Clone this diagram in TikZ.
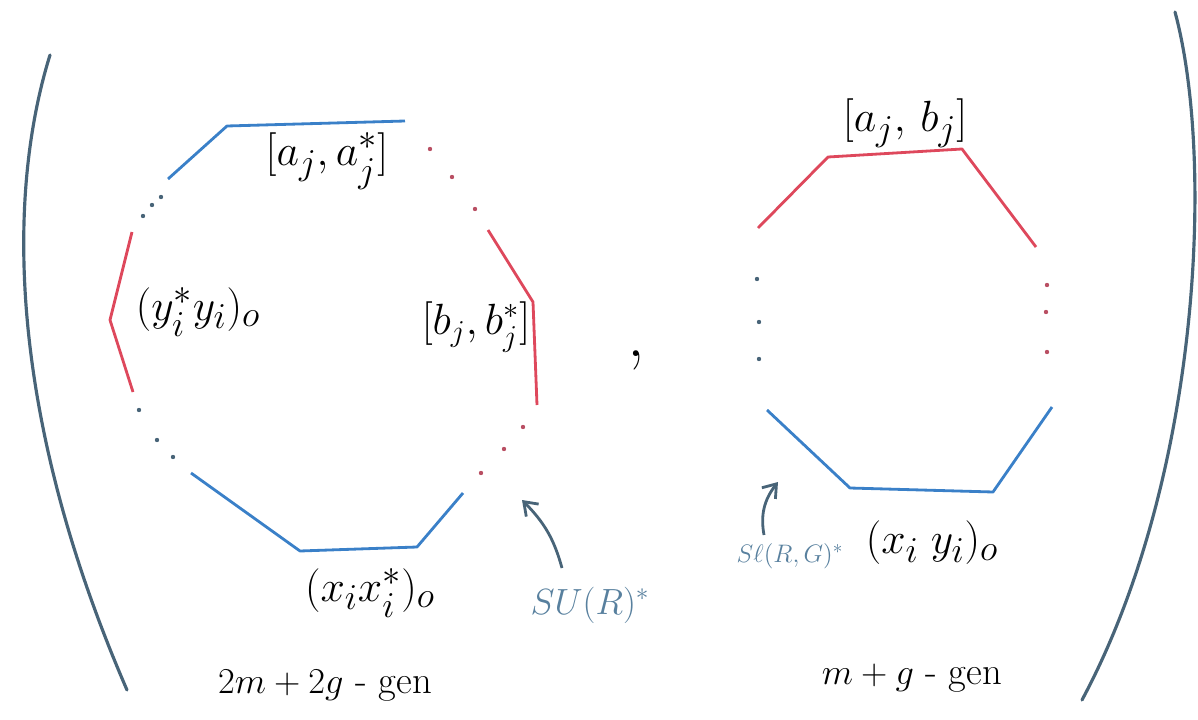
\documentclass[tikz,border=0pt]{standalone}
\usepackage{amsmath}
\usepackage{amssymb}
\usepackage{xcolor}
\usepackage{tikz}
\usetikzlibrary{arrows.meta,bending}

\definecolor{sideblue}{RGB}{58,128,200}
\definecolor{sidered}{RGB}{222,72,92}
\definecolor{slate}{RGB}{72,100,120}
\definecolor{tealgrey}{RGB}{88,128,158}

\begin{document}
\begin{tikzpicture}[x=0.02cm,y=-0.02cm,
  bluesides/.style={sideblue,line width=1.6pt,line join=round},
  redsides/.style={sidered,line width=1.6pt,line join=round},
  paren/.style={slate,line width=1.8pt,line cap=round},
  lbl/.style={font=\fontsize{31}{36}\selectfont},
  genlbl/.style={font=\fontsize{22}{26}\selectfont},
  grplbl/.style={tealgrey},
  grparrow/.style={slate,line width=1.6pt,-{Straight Barb[length=7pt,width=10pt]}}]
\useasboundingbox (0,0) rectangle (1198,720);
% big parentheses
\draw[paren] (50,55) .. controls (5,200) and (10,420) .. (127,690);
\draw[paren] (1175,12) .. controls (1215,160) and (1200,480) .. (1082,700);
% left polygon, 2m+2g sides
\draw[bluesides] (168,179) -- (227,126) -- (405,121);
\draw[redsides] (488,230) -- (533,302) -- (537,405);
\draw[bluesides] (463,493) -- (417,547) -- (300,551) -- (191,473);
\draw[redsides] (132,232) -- (110,320) -- (133,392);
\foreach \p in {(430,149),(452,177),(475,209),(523,427),(504,449),(481,473)}
  \fill[sidered!75!slate] \p circle (2.2);
\foreach \p in {(173,457),(157,440),(139,410),(143,216),(152,205),(161,197)}
  \fill[slate] \p circle (2.2);
\node[lbl] (aa) at (327,161) {$[a_j,a_j^*]$};
\node[lbl] (yy) at (198,312) {$(y_i^*y_i)_o$};
\node[lbl,font=\fontsize{26}{30}\selectfont] (bb) at (476,327) {$[b_j,b_j^*]$};
\node[lbl] (xx) at (370,593) {$(x_ix_i^*)_o$};
\node[genlbl] (gl) at (325,686) {$2m+2g$ - gen};
\node[font=\fontsize{40}{44}\selectfont] (comma) at (636,360) {,};
% right polygon, m+g sides
\draw[redsides] (758,228) -- (828,157) -- (962,149) -- (1036,247);
\draw[bluesides] (767,410) -- (850,488) -- (993,492) -- (1052,407);
\foreach \p in {(757,279),(759,322),(759,359)}
  \fill[slate] \p circle (2.2);
\foreach \p in {(1047,285),(1046,312),(1047,352)}
  \fill[sidered!75!slate] \p circle (2.2);
\node[lbl] (ab) at (905,123) {$[a_j,\,b_j]$};
\node[lbl] (xy) at (932,543) {$(x_i\;y_i)_o$};
\node[genlbl] (gr) at (912,678) {$m+g$ - gen};
% group labels
\node[grplbl,font=\fontsize{20}{24}\selectfont] (su) at (590,605) {$SU(R)^{*}$};
\node[grplbl,font=\fontsize{15}{18}\selectfont] (sl) at (790,556) {$S\ell(R,G)^{*}$};
\coordinate (sutip) at (522,500);
\coordinate (sltip) at (778,482);
\draw[grparrow] (562,568) to[bend right=15] (sutip);
\draw[grparrow] (764,535) to[bend left=25] (sltip);
\end{tikzpicture}
\end{document}
